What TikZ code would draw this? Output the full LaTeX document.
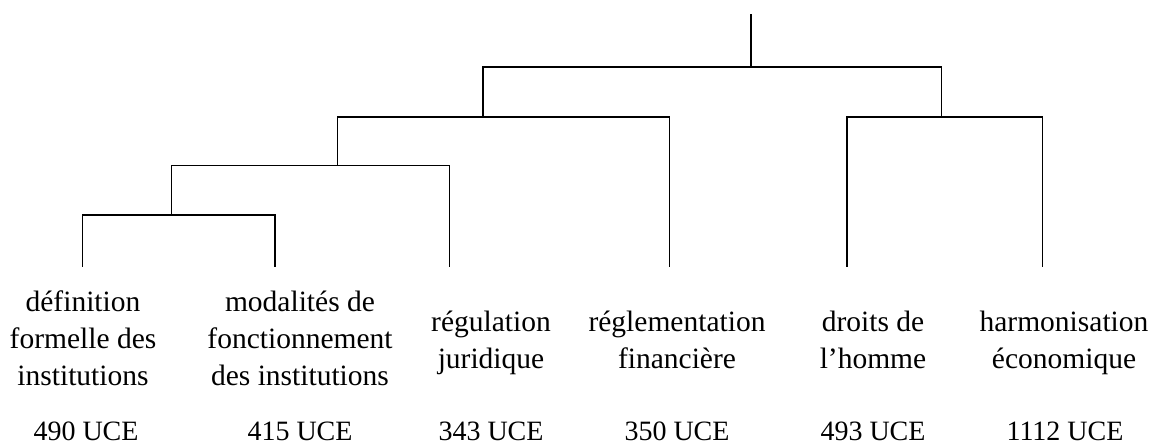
\documentclass[tikz,border=0pt]{standalone}
\usepackage{fontspec}
\setmainfont{Liberation Serif}
\begin{document}
\begin{tikzpicture}[x=1pt,y=-1pt,
  branch/.style={line width=1.5pt,line join=miter},
  leaflabel/.style={align=center,inner sep=0pt,anchor=base,font=\fontsize{29.5}{37}\selectfont},
  countlabel/.style={inner sep=0pt,anchor=base,font=\fontsize{28}{37}\selectfont}]
\useasboundingbox (0,0) rectangle (1154,444);
% leaves
\coordinate (l1) at (82.7,266.7);
\coordinate (l2) at (275,266.7);
\coordinate (l3) at (449.3,266.7);
\coordinate (l4) at (669.7,266.7);
\coordinate (l5) at (847,266.7);
\coordinate (l6) at (1042.3,266.7);
% merges
\coordinate (a) at (171.3,215);
\coordinate (b) at (337.7,165.7);
\coordinate (c) at (483,117);
\coordinate (d) at (941.7,117);
\coordinate (r) at (751,67);
\coordinate (top) at (751,14);
\draw[branch] (l1) |- (a) -| (l2);
\draw[branch] (a) |- (b) -| (l3);
\draw[branch] (b) |- (c) -| (l4);
\draw[branch] (l5) |- (d) -| (l6);
\draw[branch] (c) |- (r) -| (d);
\draw[branch] (r) -- (top);
% labels (anchor base = baseline of last line)
\node[leaflabel] (t1) at (83,385.5) {définition\\formelle des\\institutions};
\node[leaflabel] (t2) at (300,385.5) {modalités de\\fonctionnement\\des institutions};
\node[leaflabel] (t3) at (491,368.5) {régulation\\juridique};
\node[leaflabel] (t4) at (677,368.5) {réglementation\\financière};
\node[leaflabel] (t5) at (873,368.5) {droits de\\l’homme};
\node[leaflabel] (t6) at (1064,368.5) {harmonisation\\économique};
\node[countlabel] (n1) at (86,440) {490 UCE};
\node[countlabel] (n2) at (300,440) {415 UCE};
\node[countlabel] (n3) at (491,440) {343 UCE};
\node[countlabel] (n4) at (677,440) {350 UCE};
\node[countlabel] (n5) at (873,440) {493 UCE};
\node[countlabel] (n6) at (1065,440) {1112 UCE};
\end{tikzpicture}
\end{document}
